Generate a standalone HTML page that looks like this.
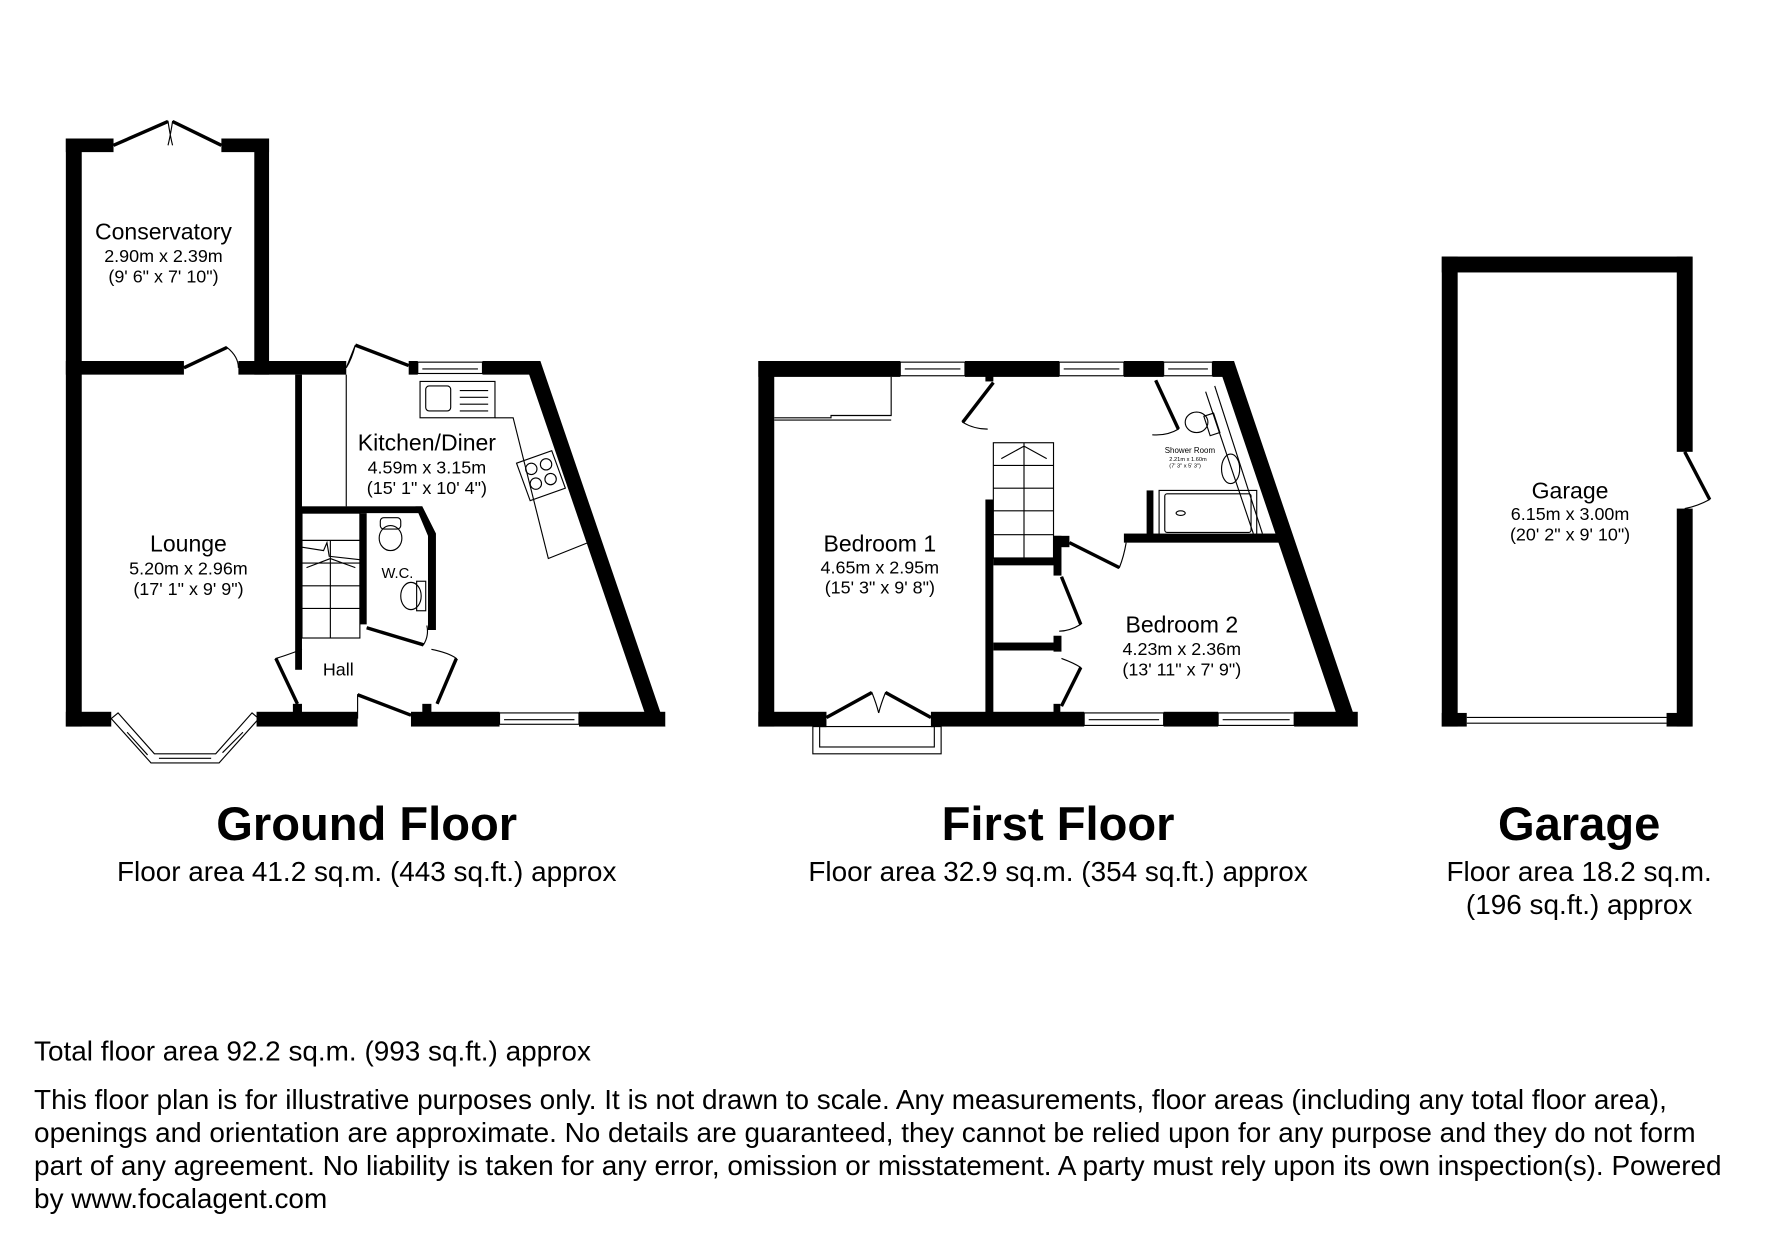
<!DOCTYPE html>
<html><head><meta charset="utf-8"><style>
html,body{margin:0;padding:0;background:#fff;width:1771px;height:1239px;overflow:hidden}
svg{display:block}
text{font-family:"Liberation Sans",Arial,sans-serif;fill:#000}
</style></head><body>
<svg width="1771" height="1239" viewBox="0 0 1560 1091.4" preserveAspectRatio="none" xmlns="http://www.w3.org/2000/svg">
<rect width="1560" height="1092" fill="#fff"/>
<g fill="#000">
<rect x="58" y="122" width="14" height="518"/>
<rect x="58" y="122" width="42" height="12"/>
<rect x="195" y="122" width="42" height="12"/>
<rect x="224" y="122" width="13" height="208"/>
<rect x="58" y="318" width="104" height="12"/>
<rect x="210" y="318" width="95" height="12"/>
<rect x="360" y="318" width="8" height="12"/>
<rect x="425" y="318" width="50" height="12"/>
<polygon points="462,318 476,318 586,640 572,640"/>
<rect x="58" y="627" width="40" height="13"/>
<rect x="226" y="627" width="89" height="13"/>
<rect x="362" y="627" width="78" height="13"/>
<rect x="510" y="627" width="76" height="13"/>
<rect x="260" y="330" width="6" height="260"/>
<rect x="262" y="446" width="110" height="6"/>
<polygon points="366,446 372,446 384,470 384,555 377,555 377,472"/>
<rect x="317" y="452" width="6" height="98"/>
<rect x="258" y="620" width="8" height="8"/>
<rect x="372" y="620" width="8" height="8"/>
<rect x="668" y="318" width="14" height="322"/>
<rect x="668" y="318" width="125" height="14"/>
<rect x="850" y="318" width="83" height="14"/>
<rect x="990" y="318" width="35" height="14"/>
<rect x="1068" y="318" width="16" height="14"/>
<polygon points="1072,318 1087,318 1196,640 1181,640"/>
<rect x="668" y="627" width="60" height="13"/>
<rect x="820" y="627" width="135" height="13"/>
<rect x="1025" y="627" width="48" height="13"/>
<rect x="1140" y="627" width="56" height="13"/>
<rect x="868" y="330" width="7" height="6"/>
<rect x="868" y="440" width="7" height="190"/>
<rect x="875" y="491" width="55" height="7"/>
<rect x="875" y="566" width="55" height="7"/>
<rect x="928" y="472" width="14" height="10"/>
<rect x="928" y="472" width="7" height="35"/>
<rect x="928" y="560" width="7" height="14"/>
<rect x="928" y="620" width="6" height="8"/>
<rect x="990" y="470" width="140" height="8"/>
<rect x="1010" y="432" width="6" height="40"/>
<rect x="1270" y="226" width="14" height="414"/>
<rect x="1270" y="226" width="220" height="14"/>
<rect x="1477" y="226" width="14" height="172"/>
<rect x="1477" y="448" width="14" height="192"/>
<rect x="1270" y="628" width="22" height="12"/>
<rect x="1468" y="628" width="22" height="12"/>
</g>
<g fill="none" stroke="#000" stroke-width="1">
<rect x="368" y="319" width="57" height="10"/><line x1="372" y1="325" x2="421" y2="325"/>
<rect x="440" y="628" width="70" height="10"/><line x1="444" y1="634" x2="506" y2="634"/>
<polygon points="98,633 133,672 193,672 228,633 222,628 190,664 136,664 104,628"/>
<line x1="112" y1="645" x2="130" y2="665"/><line x1="140" y1="668" x2="186" y2="668"/><line x1="196" y1="663" x2="214" y2="645"/>
<rect x="370" y="336" width="66" height="32"/><rect x="375" y="340" width="22" height="22" rx="3"/>
<line x1="405" y1="344" x2="430" y2="344"/><line x1="405" y1="350" x2="430" y2="350"/><line x1="405" y1="356" x2="430" y2="356"/><line x1="405" y1="362" x2="430" y2="362"/>
<polyline points="436,368 452,368 483,492 518,478"/>
<polygon points="455,408 486,397 498,430 467,441"/>
<circle cx="468" cy="413" r="5"/><circle cx="481" cy="409" r="5"/><circle cx="472" cy="426" r="5"/><circle cx="485" cy="422" r="5"/>
<line x1="305" y1="330" x2="305" y2="446"/>
<rect x="266" y="452" width="51" height="110"/>
<line x1="266" y1="476" x2="317" y2="476"/><line x1="266" y1="496" x2="317" y2="496"/><line x1="266" y1="516" x2="317" y2="516"/><line x1="266" y1="536" x2="317" y2="536"/>
<line x1="291" y1="476" x2="291" y2="562"/>
<polyline points="266,482 285,485 288,478 290,490 317,493"/>
<line x1="270" y1="500" x2="291" y2="492"/><line x1="291" y1="492" x2="313" y2="500"/>
<rect x="335" y="456" width="18" height="10" rx="3"/><ellipse cx="344" cy="474" rx="10" ry="11"/>
<rect x="367" y="512" width="8" height="26"/><ellipse cx="362" cy="525" rx="9" ry="12"/>
<text x="336" y="509" font-size="13" stroke="none">W.C.</text>
<path d="M100,128 L148,107 Q150,120 152,128 M195,128 L152,107 Q150,120 148,128"/>
<path d="M162,324 L200,306 Q210,314 210,324"/>
<path d="M305,324 L313,304 M313,304 Q310,316 305,324 M313,304 L360,322"/>
<path d="M266,572 Q250,578 243,580 L262,620"/>
<path d="M380,572 Q395,575 402,580 L385,620"/>
<path d="M323,553 L373,568 Q378,560 376,551"/>
<path d="M315,633 L315,612 Q340,620 362,630"/>
<rect x="793" y="319" width="57" height="12"/><line x1="797" y1="325" x2="846" y2="325"/>
<rect x="933" y="319" width="57" height="12"/><line x1="937" y1="325" x2="986" y2="325"/>
<rect x="1025" y="319" width="43" height="12"/><line x1="1029" y1="325" x2="1064" y2="325"/>
<rect x="955" y="628" width="70" height="11"/><line x1="959" y1="634" x2="1021" y2="634"/>
<rect x="1073" y="628" width="67" height="11"/><line x1="1077" y1="634" x2="1136" y2="634"/>
<polyline points="728,640 716,640 716,664 829,664 829,640 820,640"/><rect x="722" y="640" width="101" height="18"/>
<polyline points="682,368 732,368 732,366 785,366 785,332"/><line x1="682" y1="370" x2="785" y2="370"/>
<rect x="875" y="390" width="53" height="102"/>
<line x1="875" y1="410" x2="928" y2="410"/><line x1="875" y1="430" x2="928" y2="430"/><line x1="875" y1="450" x2="928" y2="450"/><line x1="875" y1="471" x2="928" y2="471"/>
<line x1="902" y1="390" x2="902" y2="492"/><polyline points="882,404 902,393 922,404"/>
<rect x="1021" y="432" width="86" height="40"/><rect x="1026" y="435" width="76" height="34" rx="2"/><ellipse cx="1040" cy="452" rx="4" ry="2"/>
<line x1="1062" y1="345" x2="1104" y2="470"/><line x1="1070" y1="340" x2="1112" y2="470"/>
<ellipse cx="1054" cy="372" rx="10" ry="9"/><rect x="1063" y="365" width="9" height="18" transform="rotate(-18 1067 374)"/>
<ellipse cx="1084" cy="413" rx="8" ry="13"/>
<text x="1026" y="399" font-size="7" stroke="none">Shower Room</text>
<text x="1030" y="406" font-size="5" stroke="none">2.21m x 1.60m</text>
<text x="1030" y="412" font-size="5" stroke="none">(7' 3" x 5' 3")</text>
<path d="M875,337 L848,372 Q858,378 870,378"/>
<path d="M1018,335 L1038,378 Q1028,384 1015,383"/>
<path d="M942,478 L986,500 Q990,490 992,478"/>
<path d="M935,508 L952,550 Q942,556 933,556"/>
<path d="M935,580 Q946,584 952,588 L935,622"/>
<path d="M728,632 L768,610 Q772,620 774,628 M820,632 L780,610 Q776,620 774,628"/>
<line x1="1292" y1="632" x2="1468" y2="632"/><line x1="1292" y1="637" x2="1468" y2="637"/>
<path d="M1484,398 L1506,440 Q1495,446 1484,448"/>
</g>
<g stroke="#000" stroke-width="3" fill="none">
<line x1="100" y1="128" x2="148" y2="107"/><line x1="195" y1="128" x2="152" y2="107"/>
<line x1="162" y1="324" x2="200" y2="306"/><line x1="313" y1="304" x2="360" y2="322"/>
<line x1="243" y1="580" x2="262" y2="620"/><line x1="402" y1="580" x2="385" y2="620"/>
<line x1="323" y1="553" x2="373" y2="568"/><line x1="315" y1="612" x2="362" y2="630"/>
<line x1="875" y1="337" x2="848" y2="372"/><line x1="1018" y1="335" x2="1038" y2="378"/>
<line x1="942" y1="478" x2="986" y2="500"/><line x1="935" y1="508" x2="952" y2="550"/><line x1="952" y1="588" x2="935" y2="622"/>
<line x1="728" y1="632" x2="768" y2="610"/><line x1="820" y1="632" x2="780" y2="610"/>
<line x1="1484" y1="398" x2="1506" y2="440"/>
</g>
<g font-size="20.3" text-anchor="middle">
<text x="144" y="211">Conservatory</text>
<text x="144" y="231" font-size="15.8">2.90m x 2.39m</text>
<text x="144" y="249" font-size="15.8">(9' 6" x 7' 10")</text>
<text x="166" y="486">Lounge</text>
<text x="166" y="506" font-size="15.8">5.20m x 2.96m</text>
<text x="166" y="524" font-size="15.8">(17' 1" x 9' 9")</text>
<text x="376" y="397">Kitchen/Diner</text>
<text x="376" y="417" font-size="15.8">4.59m x 3.15m</text>
<text x="376" y="435" font-size="15.8">(15' 1" x 10' 4")</text>
<text x="298" y="595" font-size="15.8">Hall</text>
<text x="775" y="486">Bedroom 1</text>
<text x="775" y="505" font-size="15.8">4.65m x 2.95m</text>
<text x="775" y="523" font-size="15.8">(15' 3" x 9' 8")</text>
<text x="1041" y="557">Bedroom 2</text>
<text x="1041" y="577" font-size="15.8">4.23m x 2.36m</text>
<text x="1041" y="595" font-size="15.8">(13' 11" x 7' 9")</text>
<text x="1383" y="439">Garage</text>
<text x="1383" y="458" font-size="15.8">6.15m x 3.00m</text>
<text x="1383" y="476" font-size="15.8">(20' 2" x 9' 10")</text>
<text x="323" y="740" font-size="41.5" font-weight="bold">Ground Floor</text>
<text x="323" y="776" font-size="24.6">Floor area 41.2 sq.m. (443 sq.ft.) approx</text>
<text x="932" y="740" font-size="41.5" font-weight="bold">First Floor</text>
<text x="932" y="776" font-size="24.6">Floor area 32.9 sq.m. (354 sq.ft.) approx</text>
<text x="1391" y="740" font-size="41.5" font-weight="bold">Garage</text>
<text x="1391" y="776" font-size="24.6">Floor area 18.2 sq.m.</text>
<text x="1391" y="805" font-size="24.6">(196 sq.ft.) approx</text>
</g>
<g font-size="24.6">
<text x="30" y="934">Total floor area 92.2 sq.m. (993 sq.ft.) approx</text>
<text x="30" y="977">This floor plan is for illustrative purposes only. It is not drawn to scale. Any measurements, floor areas (including any total floor area),</text>
<text x="30" y="1006">openings and orientation are approximate. No details are guaranteed, they cannot be relied upon for any purpose and they do not form</text>
<text x="30" y="1035">part of any agreement. No liability is taken for any error, omission or misstatement. A party must rely upon its own inspection(s). Powered</text>
<text x="30" y="1064">by www.focalagent.com</text>
</g>
</svg>
</body></html>
